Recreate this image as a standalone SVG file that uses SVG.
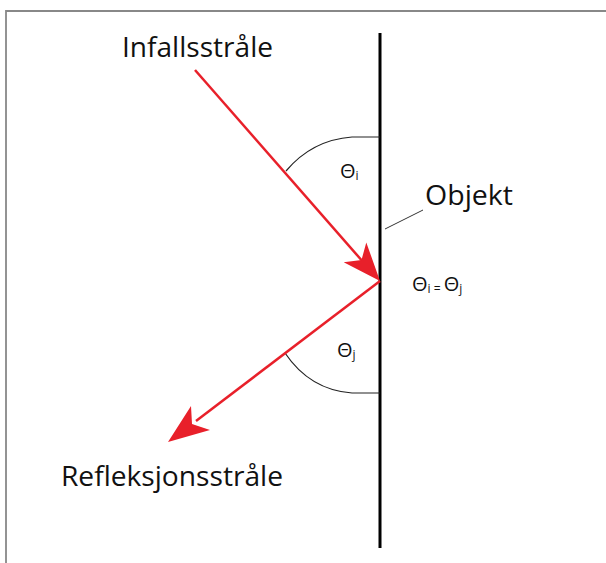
<svg xmlns="http://www.w3.org/2000/svg" width="606" height="563" viewBox="0 0 606 563">
<style>
.lbl{font-family:"Open Sans","Noto Sans","Liberation Sans",sans-serif;fill:#111;}
.big{font-size:27px;}
.th{font-size:20px;}
.sub{font-size:12px;}
.ray{stroke:#e8202a;stroke-width:2.5;fill:none;}
.head{fill:#e8202a;stroke:none;}
.arc{stroke:#222;stroke-width:1.2;fill:none;}
</style>
<rect width="606" height="563" fill="#fff"/>
<g id="frame">
<path d="M6,563 V11 H606" fill="none" stroke="#888" stroke-width="1.8"/>
</g>
<g id="objekt">
<line x1="380" y1="33" x2="380" y2="548" stroke="#000" stroke-width="3"/>
<text class="lbl big" x="425" y="205" textLength="88" lengthAdjust="spacingAndGlyphs">Objekt</text>
</g>
<g id="infall-label">
<text class="lbl big" x="122" y="57" textLength="151" lengthAdjust="spacingAndGlyphs">Infallsstråle</text>
</g>
<g id="refleks-label">
<text class="lbl big" x="61" y="486" textLength="222" lengthAdjust="spacingAndGlyphs">Refleksjonsstråle</text>
</g>
<g id="theta-i">
<text class="lbl th" x="340" y="178">Θ<tspan class="sub" dy="2">i</tspan></text>
</g>
<g id="theta-j">
<text class="lbl th" x="337" y="357">Θ<tspan class="sub" dy="2">j</tspan></text>
</g>
<g id="theta-eq">
<text class="lbl th" x="412" y="291">Θ<tspan class="sub" dy="2">i = </tspan><tspan dy="-2">Θ</tspan><tspan class="sub" dy="2">j</tspan></text>
</g>
<g id="connectors">
<line x1="385" y1="229" x2="423" y2="210" stroke="#333" stroke-width="1"/>
<path class="arc" d="M380,137 L352,137 Q312,140 286,171"/>
<path class="arc" d="M380,393 L352,393 Q310,390 285,353"/>
<line class="ray" x1="195" y1="70" x2="364" y2="263"/>
<path class="head" d="M380,281 L343.7,262.3 L361.5,260 L366.3,242.5 Z"/>
<line class="ray" x1="380" y1="281" x2="196" y2="421"/>
<path class="head" d="M168,442 L191,406 L192,424 L210,430 Z"/>
</g>
</svg>
